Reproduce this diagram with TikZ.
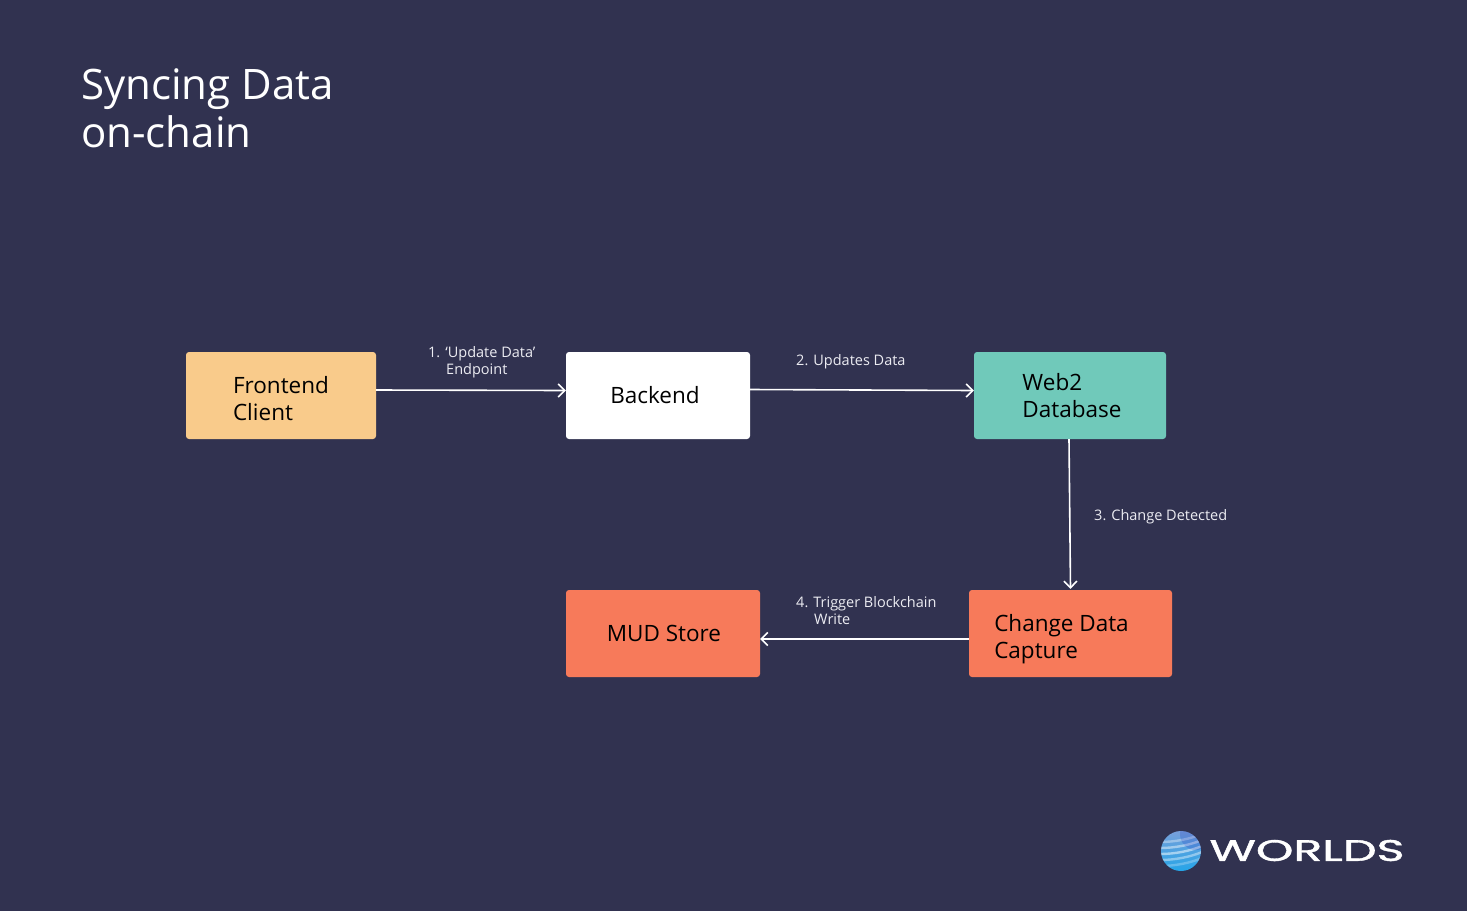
\documentclass[tikz,border=0pt]{standalone}
\usepackage{fontspec}
\setmainfont{Open Sans}
\newfontfamily\logofont[FakeBold=1.2]{Poppins}
\usetikzlibrary{arrows.meta}
\definecolor{bgc}{RGB}{49,50,80}
\definecolor{yel}{RGB}{249,203,139}
\definecolor{teal2}{RGB}{112,201,186}
\definecolor{org}{RGB}{247,122,90}
\definecolor{lab}{RGB}{236,236,242}
\definecolor{orbtop}{RGB}{120,160,218}
\definecolor{orbbot}{RGB}{36,165,232}
\tikzset{
  boxnode/.style={rounded corners=3pt,inner sep=0pt,text=black,align=left,font=\fontsize{22.5}{27}\selectfont},
  conn/.style={draw=white,line width=1.6pt,-{Straight Barb[length=6.5pt,width=13pt,line width=1.6pt]}},
  edgelabel/.style={text=lab,align=left,inner sep=0pt,anchor=north west,font=\fontsize{14.5}{17}\selectfont},
  titlenode/.style={text=white,align=left,inner sep=0pt,anchor=north west,font=\fontsize{42}{48}\selectfont}
}
\begin{document}
\begin{tikzpicture}[x=1pt,y=-1pt]
\useasboundingbox (0,0) rectangle (1467,911);
\fill[bgc] (0,0) rectangle (1467,911);
\node[titlenode] (title) at (81,68) {Syncing Data\\on-chain};
\node[boxnode,fill=yel,minimum width=190pt,minimum height=87pt] (front) at (281,395.5) {\rule{0pt}{23pt}Frontend\\Client};
\node[boxnode,fill=white,minimum width=184pt,minimum height=87pt] (back) at (658,395.5) {Backend\hspace*{6pt}};
\node[boxnode,fill=teal2,minimum width=192pt,minimum height=87pt] (web) at (1070,395.5) {\hspace*{4pt}Web2\\\hspace*{4pt}Database};
\node[boxnode,fill=org,minimum width=203pt,minimum height=87pt] (cdc) at (1070.5,633.5) {\rule{0pt}{29pt}Change Data\hspace*{18pt}\\Capture};
\node[boxnode,fill=org,minimum width=194pt,minimum height=87pt] (mud) at (663,633.5) {\hspace*{2pt}MUD Store};
\draw[conn] ([yshift=5.5pt]front.east) -- ([yshift=5pt]back.west);
\draw[conn] ([yshift=6pt]back.east) -- ([yshift=5pt]web.west);
\draw[conn] ([xshift=-1pt]web.south) -- ([yshift=1pt]cdc.north);
\draw[conn] ([yshift=-5.5pt]cdc.west) -- ([yshift=-5.5pt]mud.east);
\node[edgelabel] (l1) at (428,346.5) {1. ‘Update Data’\\\hspace*{18pt}Endpoint};
\node[edgelabel] (l2) at (796,354) {2. Updates Data};
\node[edgelabel] (l3) at (1094,509) {3. Change Detected};
\node[edgelabel] (l4) at (796,596) {4. Trigger Blockchain\\\hspace*{18pt}Write};
% logo
\shade[top color=orbtop,bottom color=orbbot] (1181,851) circle (20pt);
\begin{scope}
\clip (1181,851) circle (20pt);
\foreach \yy/\op in {839/.35,845/.45,851/.5,857/.4,863/.25}
  \draw[white,opacity=\op,line width=2.4pt] (1160,\yy+3) .. controls (1175,\yy+3) and (1190,\yy) .. (1202,\yy-5);
\fill[blue!70!black,opacity=.15] (1196,834) circle (16pt);
\end{scope}
\node[text=white,inner sep=0pt,font=\logofont\fontsize{26}{26}\selectfont] (logo) at (1307,850.5) {\resizebox{195pt}{21pt}{WORLDS}};
\end{tikzpicture}
\end{document}
